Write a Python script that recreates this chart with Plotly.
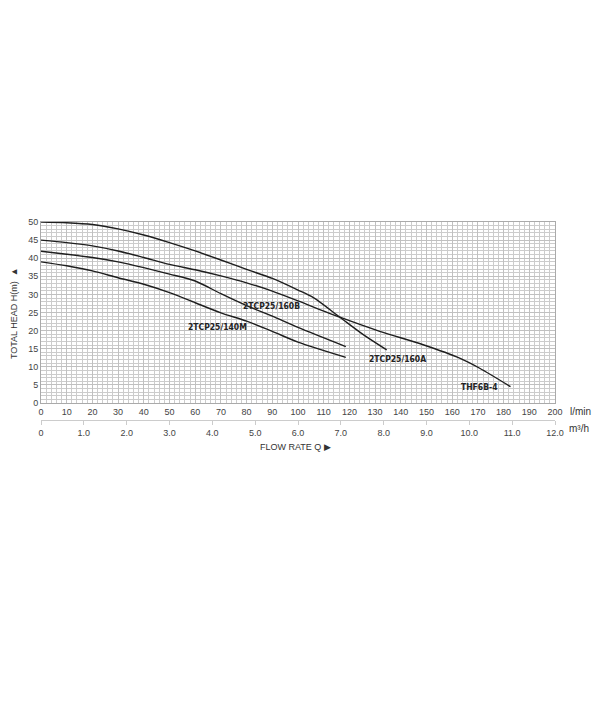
import plotly.graph_objects as go

# Flow (l/min) and head (m) values
q_160A = [0, 10, 20, 30, 40, 50, 60, 70, 80, 90, 100, 106, 116.3, 125.4, 134.5]
h_160A = [50, 49.8, 49.3, 48.1, 46.4, 44.3, 42.0, 39.5, 36.9, 34.4, 31.2, 29.1, 23.7, 18.9, 14.7]

q_THF = [0, 10, 20, 30, 40, 50, 60, 70, 80, 90, 100, 116.3, 131.8, 148.7, 162.9, 170.7, 182.7]
h_THF = [45, 44.3, 43.4, 42.0, 40.2, 38.3, 36.8, 35.1, 33.2, 30.9, 28.2, 23.7, 19.8, 16.1, 12.4, 9.6, 4.5]

q_160B = [0, 10, 20, 30, 40, 50, 60, 70, 80, 90, 100, 118.6]
h_160B = [41.9, 41.1, 40.2, 39.0, 37.4, 35.6, 33.7, 30.2, 26.9, 24.0, 20.9, 15.6]

q_140M = [0, 10, 20, 30, 40, 50, 60, 70, 80, 90, 100, 118.6]
h_140M = [39.0, 37.9, 36.5, 34.6, 32.8, 30.5, 27.7, 24.9, 22.6, 19.8, 16.8, 12.6]

curve_labels = ["2TCP25/160B", "2TCP25/140M", "2TCP25/160A", "THF6B-4"]
label_x = [89.7, 68.7, 138.6, 170.8]
label_y = [26.7, 20.9, 12.2, 4.5]

lmin_ticks = list(range(0, 201, 10))
m3h_ticks = list(range(0, 13))
m3h_text = ["0"] + [f"{v:.1f}" for v in m3h_ticks[1:]]

fig = go.Figure()
for q, h in [(q_160A, h_160A), (q_THF, h_THF), (q_160B, h_160B), (q_140M, h_140M)]:
    fig.add_trace(go.Scatter(x=q, y=h, mode="lines",
                             line=dict(color="#1e1e1e", width=1.4, shape="spline", smoothing=0.8),
                             showlegend=False, hoverinfo="skip"))
# dummy trace for second axis
fig.add_trace(go.Scatter(x=[0, 12], y=[None, None], xaxis="x2", yaxis="y",
                         mode="markers", showlegend=False, hoverinfo="skip"))

for t, x, y in zip(curve_labels, label_x, label_y):
    fig.add_annotation(x=x, y=y, text=f"<b>{t}</b>", showarrow=False,
                       font=dict(family="Liberation Sans Narrow, DejaVu Sans Condensed, Liberation Sans", size=8.5, color="#222"))

tickfont = dict(family="Liberation Sans, Arial", size=9, color="#444")

fig.update_layout(
    width=592, height=687,
    paper_bgcolor="white", plot_bgcolor="white",
    margin=dict(l=32.5, r=44.5, t=214, b=275),
    xaxis=dict(range=[0, 200], tickvals=lmin_ticks, ticktext=[str(v) for v in lmin_ticks],
               showgrid=True, gridcolor="#c0c0c0", gridwidth=1,
               minor=dict(dtick=2, showgrid=True, gridcolor="#cccccc", gridwidth=1),
               showline=True, linecolor="#aaaaaa", mirror=True,
               ticks="", tickfont=tickfont, zeroline=False, anchor="y"),
    xaxis2=dict(range=[0, 12.0], overlaying="x", anchor="free", position=0, side="bottom",
                tickvals=m3h_ticks, ticktext=m3h_text, showgrid=False, zeroline=False,
                showline=True, linecolor="#cccccc", ticks="outside", ticklen=4, tickcolor="#cccccc",
                tickfont=tickfont),
    yaxis=dict(range=[0, 50], domain=[17 / 198, 1], dtick=5,
               showgrid=True, gridcolor="#c0c0c0", gridwidth=1,
               minor=dict(dtick=1, showgrid=True, gridcolor="#cccccc", gridwidth=1),
               showline=True, linecolor="#aaaaaa", mirror=True,
               ticks="", tickfont=tickfont, zeroline=False),
)

fig.add_annotation(xref="paper", yref="paper", x=1.0, y=17 / 198, xanchor="left", yanchor="middle",
                   xshift=12.5, yshift=-8, text="l/min", showarrow=False,
                   font=dict(family="Liberation Sans, Arial", size=10, color="#333"))
fig.add_annotation(xref="paper", yref="paper", x=1.0, y=0, xanchor="left", yanchor="middle",
                   xshift=12, yshift=-8, text="m³/h", showarrow=False,
                   font=dict(family="Liberation Sans, Arial", size=10, color="#333"))
fig.add_annotation(xref="paper", yref="paper", x=0.495, y=0, xanchor="center", yanchor="middle",
                   yshift=-27, text="FLOW RATE Q ▶", showarrow=False,
                   font=dict(family="Liberation Sans, Arial", size=9, color="#333"))
fig.add_annotation(xref="paper", yref="paper", x=0, y=0.54, xanchor="center", yanchor="middle",
                   xshift=-27, text="TOTAL HEAD H(m)  ▲", textangle=-90, showarrow=False,
                   font=dict(family="Liberation Sans, Arial", size=9, color="#333"))

fig.write_html("out.html")
